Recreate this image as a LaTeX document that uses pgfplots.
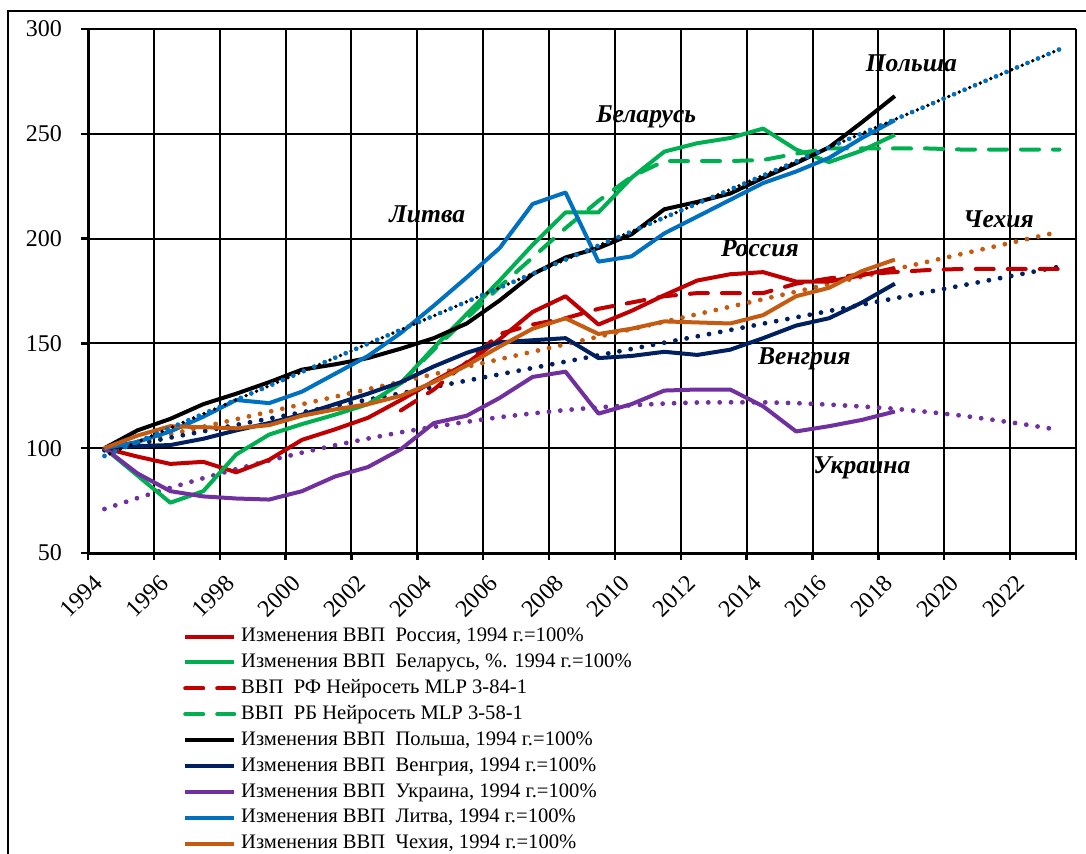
\documentclass[border=0pt]{standalone}
\usepackage{fontspec}
\setmainfont{Liberation Serif}
\usepackage{pgfplots}
\usepackage{pgfplotstable}
\pgfplotsset{compat=1.18}

\definecolor{cRus}{RGB}{192,0,0}
\definecolor{cBlr}{RGB}{0,176,80}
\definecolor{cHun}{RGB}{0,32,96}
\definecolor{cUkr}{RGB}{112,48,160}
\definecolor{cLit}{RGB}{0,112,192}
\definecolor{cCze}{RGB}{197,90,17}

% GDP change, 1994 = 100
\pgfplotstableread{
year rus blr pol hun ukr lit cze
1994 100 100 100 100 100 100 100
1995 96 87 108.5 101 88 103 106
1996 92.5 74 114 101.5 79.5 108 110.5
1997 93.5 79.5 121 104.5 77 115 110
1998 88.5 97 126 108.5 76 123 109.5
1999 94.5 106.5 131.5 112 75.5 121.5 111
2000 104 111.5 137.5 116 79.5 127 115.5
2001 109 116 140 121 86.5 135.5 118.5
2002 114.5 121 143 126 91 144 121
2003 123 131 147.5 131.5 99.5 155 125
2004 132 148 152.5 139 112 168 131.5
2005 140.5 164 159.5 145.5 115.5 181.5 139.5
2006 152 180 170.5 150.5 124 195.5 148.5
2007 165 197 183 151.5 134 216.5 157
2008 172.5 212.5 191 152.5 136.5 222 162
2009 159 212.5 195.5 143 116.5 189 154.5
2010 165.5 229 202 144 121 191.5 157
2011 173 241.5 214 146 127.5 202.5 160.5
2012 180 245.5 217.5 144.5 128 210.5 160
2013 183 248 221.5 147 128 218.5 159.5
2014 184 252.5 229 152.5 120 226.5 163.5
2015 179.5 242.5 236 158.5 108 232 172.5
2016 179.5 236.5 243.5 162 110.5 238.5 176.5
2017 182.5 242 255.5 169.5 113.5 248 184.5
2018 186 249.5 268 178.5 117.5 256.5 190
}\actual

% neural network forecasts
\pgfplotstableread{
year rus blr
2003 118 131
2004 128 147
2005 141 162
2006 154.5 177
2007 159 191
2008 162 205
2009 166.5 218
2010 169.5 229.5
2011 172.5 237
2012 174 237
2013 174 237
2014 174 237.5
2015 178.5 240.5
2016 181 243
2017 183 243
2018 184 243
2019 185 243
2020 185.5 242.5
2021 185.5 242.5
2022 185.5 242.5
2023 185.5 242.5
}\mlp

% Ukraine polynomial trend
\pgfplotstableread{
year ukr
1994 71.0
1995 76.2
1996 81.1
1997 85.7
1998 90.0
1999 94.1
2000 97.9
2001 101.4
2002 104.6
2003 107.6
2004 110.2
2005 112.6
2006 114.8
2007 116.6
2008 118.2
2009 119.5
2010 120.5
2011 121.3
2012 121.8
2013 121.9
2014 121.9
2015 121.5
2016 120.8
2017 119.9
2018 118.8
2019 117.3
2020 115.6
2021 113.5
2022 111.2
2023 108.7
}\ukrtrend

% linear trends (end points)
\pgfplotstableread{
year pol cze hun
1994 96.3 99.5 99
2023 290.3 203.3 186.6
}\lintrend

\begin{document}
\makebox[543pt][l]{\raisebox{0pt}[0pt][427pt]{%
\begin{tikzpicture}[baseline=(current bounding box.north)]
\path (0,0) rectangle (543pt,-427pt);
\draw[line width=1pt] (4pt,-460pt) -- (4pt,-5.5pt) -- (560pt,-5.5pt);
\begin{axis}[
  at={(44pt,-276.5pt)}, anchor=south west,
  scale only axis, width=494pt, height=262pt,
  xmin=1993.5, xmax=2023.5, ymin=50, ymax=300,
  axis lines=left,
  axis line style={-, line width=1.5pt},
  xtick={1993.5,1995.5,1997.5,1999.5,2001.5,2003.5,2005.5,2007.5,2009.5,2011.5,2013.5,2015.5,2017.5,2019.5,2021.5,2023.5},
  xticklabels={1994,1996,1998,2000,2002,2004,2006,2008,2010,2012,2014,2016,2018,2020,2022,},
  ytick={50,100,150,200,250,300},
  grid=major,
  major grid style={black, line width=1pt},
  tick align=outside, major tick length=3.5pt,
  tick style={black, line width=1.2pt},
  ticklabel style={font=\fontsize{12}{14}\selectfont},
  /pgf/number format/assume math mode=true,
  xticklabel style={xshift=-3.3pt, rotate=45, anchor=center},
  xticklabel shift=18pt,
  yticklabel style={xshift=-6pt},
  legend style={at={(0.096,-0.134)}, anchor=north west, draw=none, fill=none,
    inner sep=0pt, row sep=0pt, column sep=2.5pt,
    font=\fontsize{10.3}{12}\selectfont,
    nodes={inner sep=0pt, text height=9pt, text depth=3.95pt}},
  legend cell align=left,
  legend image code/.code={\draw[#1] (0pt,0pt) -- (24.5pt,0pt);},
  every axis plot/.append style={line width=2pt, line join=round},
]
% trend lines
\addplot[cUkr, line width=2.4pt, line cap=round, dash pattern=on 0pt off 5.7pt, forget plot] table[x=year, y=ukr] {\ukrtrend};
\addplot[cCze, line width=2.4pt, line cap=round, dash pattern=on 0pt off 5.7pt, forget plot] table[x=year, y=cze] {\lintrend};
\addplot[cHun, line width=2.4pt, line cap=round, dash pattern=on 0pt off 5.7pt, forget plot] table[x=year, y=hun] {\lintrend};

\addplot[cRus] table[x=year, y=rus] {\actual};
\addlegendentry{Изменения ВВП\ \ Россия, 1994 г.=100\%}
\addplot[cBlr] table[x=year, y=blr] {\actual};
\addlegendentry{Изменения ВВП\ \ Беларусь, \%. 1994 г.=100\%}
\addplot[cRus, dash pattern=on 9pt off 7pt, line cap=round] table[x=year, y=rus] {\mlp};
\addlegendentry{ВВП\ \ РФ Нейросеть MLP 3-84-1}
\addplot[cBlr, dash pattern=on 9pt off 7pt, line cap=round] table[x=year, y=blr] {\mlp};
\addlegendentry{ВВП\ \ РБ Нейросеть MLP 3-58-1}
\addplot[black] table[x=year, y=pol] {\actual};
\addlegendentry{Изменения ВВП\ \ Польша, 1994 г.=100\%}
\addplot[cHun] table[x=year, y=hun] {\actual};
\addlegendentry{Изменения ВВП\ \ Венгрия, 1994 г.=100\%}
\addplot[cUkr] table[x=year, y=ukr] {\actual};
\addlegendentry{Изменения ВВП\ \ Украина, 1994 г.=100\%}
\addplot[cLit] table[x=year, y=lit] {\actual};
\addlegendentry{Изменения ВВП\ \ Литва, 1994 г.=100\%}
\addplot[cCze] table[x=year, y=cze] {\actual};
\addlegendentry{Изменения ВВП\ \ Чехия, 1994 г.=100\%}

% Poland / Lithuania trend (overlapping)
\addplot[cLit, line width=2.4pt, line cap=round, dash pattern=on 0pt off 5.7pt, forget plot] table[x=year, y=pol] {\lintrend};
\addplot[black, line width=1.9pt, line cap=round, dash pattern=on 0pt off 5.7pt, dash phase=2.85pt, forget plot] table[x=year, y=pol] {\lintrend};

\node[font=\bfseries\itshape\fontsize{12.8}{14}\selectfont] at (axis cs:2018.5,283.8) {Польша};
\node[font=\bfseries\itshape\fontsize{12.8}{14}\selectfont] at (axis cs:2010.45,258) {Беларусь};
\node[font=\bfseries\itshape\fontsize{12.8}{14}\selectfont] at (axis cs:2003.8,211.7) {Литва};
\node[font=\bfseries\itshape\fontsize{12.8}{14}\selectfont] at (axis cs:2021.15,209.4) {Чехия};
\node[font=\bfseries\itshape\fontsize{12.8}{14}\selectfont] at (axis cs:2013.9,195.5) {Россия};
\node[font=\bfseries\itshape\fontsize{12.8}{14}\selectfont] at (axis cs:2015.25,142.6) {Венгрия};
\node[font=\bfseries\itshape\fontsize{12.8}{14}\selectfont] at (axis cs:2017.0,90.6) {Украина};
\end{axis}
\end{tikzpicture}}}
\end{document}
